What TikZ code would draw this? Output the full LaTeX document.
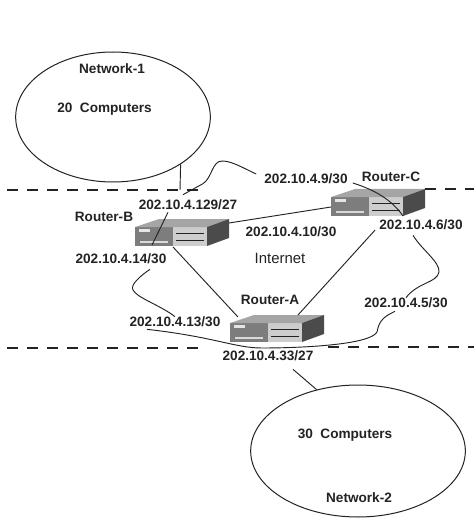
\documentclass[tikz,border=0pt]{standalone}
\usepackage{fontspec}
\setmainfont{Liberation Sans}
\usepackage{tikz}
\usetikzlibrary{shapes.geometric}
\definecolor{RouterDark}{RGB}{125,125,125}
\definecolor{RouterLight}{RGB}{205,205,205}
\definecolor{RouterTop}{RGB}{165,165,165}
\definecolor{RouterSide}{RGB}{75,75,75}
\definecolor{InkGray}{RGB}{35,35,35}
\tikzset{
  lab/.style={font=\fontsize{10.2}{12}\selectfont\bfseries,text=InkGray,inner sep=0pt},
  net/.style={ellipse,draw=InkGray,line width=0.75pt,inner sep=0pt},
  wire/.style={draw=InkGray,line width=0.7pt},
  border/.style={draw=InkGray,line width=0.9pt,dash pattern=on 8.5pt off 6.5pt},
  pics/router/.style={code={
    \fill[RouterDark] (0,0) rectangle (38,19);
    \fill[RouterLight] (38,0) rectangle (72,19);
    \fill[RouterTop] (0,0) -- (24,-8) -- (94,-8) -- (72,0) -- cycle;
    \fill[RouterSide] (72,0) -- (94,-8) -- (94,11) -- (72,19) -- cycle;
    \fill[white!90!black] (4,2) rectangle (15,5);
    \fill[white!85!black] (5,14) rectangle (33,16);
    \draw[InkGray,line width=0.5pt] (41,6) -- (69,6) (41,13) -- (69,13);
    \coordinate (-left) at (0,10);
    \coordinate (-right) at (94,-4);
    \coordinate (-back) at (68,-8);
    \coordinate (-low) at (38,20);
    \coordinate (-port) at (17,18);
    \coordinate (-base) at (72,19);
    \coordinate (-top) at (8,-6);
  }},
}

\begin{document}
\begin{tikzpicture}[x=0.75pt,y=-0.75pt]
\useasboundingbox (0,0) rectangle (474,520);
\fill[white] (0,0) rectangle (474,520);
\node[net,minimum width=146pt,minimum height=97.5pt] (netone) at (113,117) {};
\node[net,minimum width=161pt,minimum height=99pt] (nettwo) at (358,451) {};
\coordinate (d1) at (180,190);
\draw[border] (7,190) -- (203,190);
\draw[border] (425,189) -- (474,189);
\draw[border] (7,348) -- (203,348);
\draw[border] (328,347) -- (474,347);
\draw[wire] (netone.-35) -- (d1);
\pic (rb) at (135,227) {router};
\pic (rc) at (331,197) {router};
\pic (ra) at (230,323) {router};
\node[lab] (nameone) at (112,69) {Network-1};
\node[lab] (compone) at (104.5,109) {20\ \ Computers};
\node[lab] (comptwo) at (345,435) {30\ \ Computers};
\node[lab] (nametwo) at (359,498) {Network-2};
\node[lab] (namerb) at (104,217) {Router-B};
\node[lab] (namerc) at (391,177) {Router-C};
\node[lab] (namera) at (270,300) {Router-A};
\node[lab] (ipa) at (188,205) {202.10.4.129/27};
\node[lab] (ipb) at (121,259) {202.10.4.14/30};
\node[lab] (ipc) at (175,322) {202.10.4.13/30};
\node[lab] (ipd) at (306,179) {202.10.4.9/30};
\node[lab] (ipe) at (291,232) {202.10.4.10/30};
\node[lab] (ipf) at (421,225) {202.10.4.6/30};
\node[lab] (ipg) at (406,303) {202.10.4.5/30};
\node[lab] (iph) at (268,356) {202.10.4.33/27};
\node[font=\fontsize{11.2}{13}\selectfont,text=InkGray,inner sep=0pt] (cloud) at (280,258) {Internet};
\draw[wire] (rb-right) -- (rc-left);
\draw[wire] (rb-low) -- (ra-top);
\draw[wire] ([shift={(-5,-5)}]ipa.north) -- ++(20,-11) .. controls (212,178) and (212,161) .. (222,161) .. controls (232,161) and (243,168) .. ([shift={(-8,-5)}]ipd.west);
\draw[wire] ([shift={(5,4)}]ipd.east) .. controls (375,190) and (392,200) .. (rc-base);
\draw[wire] ([shift={(-20,2)}]ipa.south) -- (rb-port);
\draw[wire] ([shift={(29,5)}]ipb.south) .. controls (140,276) and (130,285) .. (133,290) .. controls (137,298) and (160,305) .. (ipc.north);
\draw[wire] ([shift={(-4,5)}]ipf.west) -- (ra-back);
\draw[wire] ([shift={(-8,5)}]ipf.south) .. controls (422,250) and (440,262) .. (439,272) .. controls (437,283) and (418,282) .. (ipg.north);
\draw[wire] ([shift={(-28,2)}]ipc.south) .. controls (215,337) and (235,348) .. (262,348) .. controls (300,348) and (370,345) .. (377,332) .. controls (379,320) and (385,316) .. ([shift={(-11,3)}]ipg.south);
\draw[wire] ([shift={(25,8)}]iph.south) -- (nettwo.124);
\end{tikzpicture}
\end{document}
